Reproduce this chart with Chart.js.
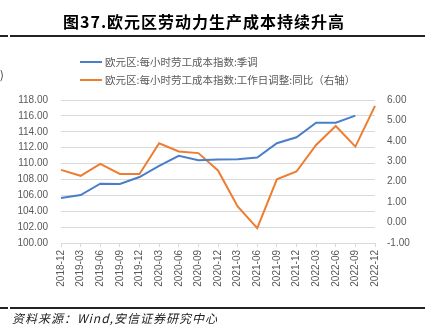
<!DOCTYPE html>
<html lang="zh">
<head>
<meta charset="UTF-8">
<title>欧元区劳动力生产成本</title>
<script src="https://cdn.jsdelivr.net/npm/chart.js"></script>
<style>
    body {
        margin: 0;
        background: #fff;
        width: 432px;
        height: 333px;
        overflow: hidden;
        position: relative;
        font-family: "Noto Sans CJK SC", sans-serif;
    }
    .title {
        position: absolute;
        left: 63px;
        top: 9px;
        font-size: 16px;
        font-weight: bold;
        letter-spacing: 1px;
        color: #000;
        white-space: nowrap;
    }
    .rule {
        position: absolute;
        height: 1.5px;
        background: #222;
    }
    .legend {
        position: absolute;
        left: 80px;
        top: 53px;
        font-size: 10.5px;
        color: #595959;
        line-height: 18px;
    }
    .legend-item { display: flex; align-items: center; white-space: nowrap; }
    .legend-item span.swatch {
        display: inline-block;
        width: 22px;
        height: 2px;
        margin-right: 3px;
    }
    .chart-box {
        position: absolute;
        left: 0;
        top: 0;
        width: 432px;
        height: 333px;
    }
    .source {
        position: absolute;
        left: 12px;
        top: 309px;
        font-size: 12px;
        font-style: italic;
        letter-spacing: 1px;
        color: #222;
        white-space: nowrap;
    }
    .edge {
        position: absolute;
        left: 0;
        top: 66px;
        font-size: 11px;
        color: #333;
    }
</style>
</head>
<body>
<div class="chart-box"><canvas id="chart" width="432" height="333"></canvas></div>
<div class="title">图37.欧元区劳动力生产成本持续升高</div>
<div class="rule" style="left:0;width:8px;top:35px"></div>
<div class="rule" style="left:10px;width:415px;top:35px"></div>
<div class="edge">)</div>
<div class="legend" id="legend"></div>
<div class="rule" style="left:0;width:8px;top:307px"></div>
<div class="rule" style="left:10px;width:415px;top:307px"></div>
<div class="source">资料来源：Wind,安信证券研究中心</div>

<script>
    const categories = ['2018-12', '2019-03', '2019-06', '2019-09', '2019-12', '2020-03', '2020-06', '2020-09', '2020-12',
        '2021-03', '2021-06', '2021-09', '2021-12', '2022-03', '2022-06', '2022-09', '2022-12'];
    // 欧元区:每小时劳工成本指数:季调 (左轴)
    const laborCostIndex = [105.66, 106.03, 107.46, 107.44, 108.30, 109.70, 110.97, 110.42, 110.50,
        110.55, 110.76, 112.56, 113.31, 115.15, 115.15, 116.03];
    // 欧元区:每小时劳工成本指数:工作日调整:同比 (右轴)
    const laborCostYoY = [2.58, 2.29, 2.87, 2.38, 2.38, 3.88, 3.48, 3.40, 2.55,
        0.79, -0.27, 2.12, 2.50, 3.80, 4.73, 3.72, 5.71];

    const seriesNames = ['欧元区:每小时劳工成本指数:季调', '欧元区:每小时劳工成本指数:工作日调整:同比（右轴）'];
    const blue = '#4a7ecb';
    const orange = '#ed7d31';
    const gridColor = '#d9d9d9';
    const tickColor = '#595959';
    const tickFont = { family: '"Liberation Sans", Arial, sans-serif', size: 10 };

    // 图例用html画, 两行左对齐
    const legendEl = document.getElementById('legend');
    [[seriesNames[0], blue], [seriesNames[1], orange]].forEach(([name, color]) => {
        const row = document.createElement('div');
        row.className = 'legend-item';
        row.innerHTML = '<span class="swatch" style="background:' + color + '"></span>' + name;
        legendEl.appendChild(row);
    });

    const ctx = document.getElementById('chart').getContext('2d');
    new Chart(ctx, {
        type: 'line',
        data: {
            labels: categories,
            datasets: [
                {
                    label: seriesNames[0],
                    data: laborCostIndex,
                    borderColor: blue,
                    borderWidth: 2,
                    pointRadius: 0,
                    tension: 0,
                    yAxisID: 'y'
                },
                {
                    label: seriesNames[1],
                    data: laborCostYoY,
                    borderColor: orange,
                    borderWidth: 2,
                    pointRadius: 0,
                    tension: 0,
                    yAxisID: 'y1'
                }
            ]
        },
        options: {
            responsive: false,
            animation: false,
            layout: { padding: { top: 100, left: 0, right: 0, bottom: 0 } },
            plugins: {
                legend: { display: false },
                tooltip: { enabled: false }
            },
            scales: {
                x: {
                    offset: false,
                    grid: {
                        drawOnChartArea: false,
                        drawTicks: true,
                        tickLength: 4,
                        color: gridColor
                    },
                    border: { color: gridColor },
                    ticks: {
                        color: tickColor,
                        font: tickFont,
                        minRotation: 90,
                        maxRotation: 90,
                        padding: 3,
                        autoSkip: false
                    },
                    afterFit: (scale) => { scale.height = 90; }
                },
                y: {
                    position: 'left',
                    min: 100,
                    max: 118,
                    grid: { color: gridColor, drawTicks: false },
                    border: { display: false },
                    ticks: {
                        stepSize: 2,
                        color: tickColor,
                        font: tickFont,
                        padding: 13,
                        callback: (v) => v.toFixed(2)
                    },
                    afterFit: (scale) => { scale.width = 61; }
                },
                y1: {
                    position: 'right',
                    min: -1,
                    max: 6,
                    grid: { drawOnChartArea: false, drawTicks: false },
                    border: { display: false },
                    ticks: {
                        stepSize: 1,
                        color: tickColor,
                        font: tickFont,
                        padding: 12,
                        callback: (v) => v.toFixed(2)
                    },
                    afterFit: (scale) => { scale.width = 57; }
                }
            }
        }
    });
</script>
</body>
</html>
